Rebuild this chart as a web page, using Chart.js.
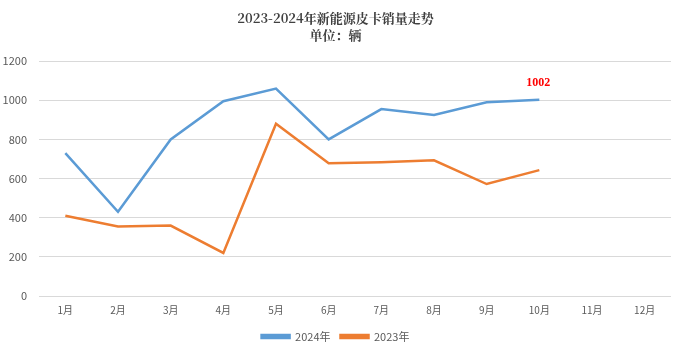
<!DOCTYPE html>
<html>
<head>
<meta charset="utf-8">
<script src="https://cdn.jsdelivr.net/npm/chart.js@4"></script>
<style>
  html, body { margin: 0; padding: 0; background: #fff; }
  #wrap { width: 680px; height: 352px; position: relative; }
</style>
</head>
<body>
<div id="wrap"><canvas id="salesChart"></canvas></div>
<script>
// chart data
const months = ['1月', '2月', '3月', '4月', '5月', '6月', '7月', '8月', '9月', '10月', '11月', '12月'];
const sales2024 = [730, 430, 800, 995, 1060, 800, 955, 925, 990, 1002, null, null];
const sales2023 = [410, 355, 360, 220, 880, 678, 683, 693, 572, 643, null, null];
const yTicks = [0, 200, 400, 600, 800, 1000, 1200];

// draws the red value label over the last 2024 point
const lastLabel = {
    id: 'lastLabel',
    afterDatasetsDraw(chart) {
        const meta = chart.getDatasetMeta(0);
        const pt = meta.data[9];
        const ctx = chart.ctx;
        ctx.save();
        ctx.fillStyle = '#ff0000';
        ctx.font = 'bold 12px "Liberation Serif", "DejaVu Serif", serif';
        ctx.textAlign = 'center';
        ctx.textBaseline = 'bottom';
        ctx.fillText(String(sales2024[9]), pt.x - 1, pt.y - 11);
        ctx.restore();
    }
};

Chart.defaults.font.family = '"Noto Sans CJK SC", "DejaVu Sans", sans-serif';
Chart.defaults.color = '#595959';

new Chart(document.getElementById('salesChart').getContext('2d'), {
    type: 'line',
    data: {
        labels: months,
        datasets: [
            {
                label: '2024年',
                data: sales2024,
                borderColor: '#5B9BD5',
                backgroundColor: '#5B9BD5',
                borderWidth: 2.5,
                pointRadius: 0,
                fill: false
            },
            {
                label: '2023年',
                data: sales2023,
                borderColor: '#ED7D31',
                backgroundColor: '#ED7D31',
                borderWidth: 2.5,
                pointRadius: 0,
                fill: false
            }
        ]
    },
    options: {
        responsive: true,
        maintainAspectRatio: false,
        animation: false,
        layout: { padding: { left: 0, right: 9, top: 2, bottom: 0 } },
        scales: {
            x: {
                offset: true,
                afterFit: axis => { axis.height += 5; },
                grid: { display: false },
                border: { display: false },
                ticks: { font: { size: 10 }, color: '#595959', padding: 0 }
            },
            y: {
                min: 0,
                max: 1200,
                afterBuildTicks: axis => { axis.ticks = yTicks.map(v => ({ value: v })); },
                afterFit: axis => { axis.width = 39; },
                grid: { color: '#d9d9d9', drawTicks: false },
                border: { display: false },
                ticks: {
                    font: { size: 11 },
                    color: '#595959',
                    padding: 12,
                    callback: v => String(v)
                }
            }
        },
        plugins: {
            title: {
                display: true,
                text: ['2023-2024年新能源皮卡销量走势', '单位：辆'],
                color: '#404040',
                font: { size: 13, weight: 'bold', family: '"Noto Serif CJK SC", "Noto Sans CJK SC", serif', lineHeight: 1.35 },
                padding: { top: 7, bottom: 17 }
            },
            legend: {
                position: 'bottom',
                labels: {
                    boxWidth: 28,
                    boxHeight: 3,
                    font: { size: 11 },
                    color: '#595959',
                    padding: 10
                }
            },
            tooltip: { enabled: false }
        }
    },
    plugins: [lastLabel]
});
</script>
</body>
</html>
